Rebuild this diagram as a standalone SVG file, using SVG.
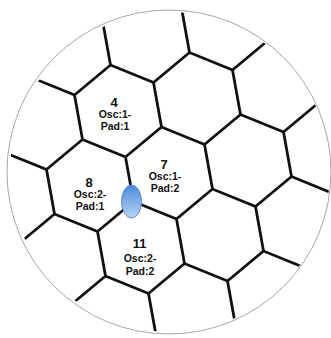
<svg xmlns="http://www.w3.org/2000/svg" width="331" height="338" viewBox="0 0 331 338">
  <defs>
    <clipPath id="wafer">
      <circle cx="170" cy="172" r="160"/>
    </clipPath>
    <linearGradient id="dotGrad" x1="0" y1="0" x2="0" y2="1">
      <stop offset="0" stop-color="#4a89d9"/>
      <stop offset="1" stop-color="#b9d5f5"/>
    </linearGradient>
  </defs>
  <style>
    .grid path { fill: none; stroke: #111; stroke-width: 2.8; stroke-linejoin: miter; }
    .num { font-family: "Liberation Sans", Arial, sans-serif; font-weight: bold; font-size: 13px; fill: #111; text-anchor: middle; }
    .lbl { font-family: "Liberation Sans", Arial, sans-serif; font-weight: bold; font-size: 10.5px; fill: #111; text-anchor: middle; }
  </style>
  <rect width="331" height="338" fill="#fff"/>
  <circle id="outline" cx="169" cy="172" r="162" fill="none" stroke="#a6a6a6" stroke-width="1"/>
  <g id="connectors" class="grid" clip-path="url(#wafer)">
    <path d="M23.5,33 L59.5,3 L102.5,20.5 L110.5,65"/>
    <path d="M102.5,20.5 L138.5,-9.5 L181.5,8 L189.5,52.5"/>
    <path d="M181.5,8 L217.5,-22 L260.5,-4.5 L268.5,40"/>
    <path d="M-4.5,107.5 L31.5,77.5 L74.5,95 L82.5,139.5"/>
    <path d="M74.5,95 L110.5,65 L153.5,82.5 L161.5,127"/>
    <path d="M153.5,82.5 L189.5,52.5 L232.5,70 L240.5,114.5"/>
    <path d="M232.5,70 L268.5,40 L311.5,57.5 L319.5,102"/>
    <path d="M-32.5,182 L3.5,152 L46.5,169.5 L54.5,214"/>
    <path d="M46.5,169.5 L82.5,139.5 L125.5,157 L133.5,201.5"/>
    <path d="M125.5,157 L161.5,127 L204.5,144.5 L212.5,189"/>
    <path d="M204.5,144.5 L240.5,114.5 L283.5,132 L291.5,176.5"/>
    <path d="M283.5,132 L319.5,102 L362.5,119.5 L370.5,164"/>
    <path d="M18.5,244 L54.5,214 L97.5,231.5 L105.5,276"/>
    <path d="M97.5,231.5 L133.5,201.5 L176.5,219 L184.5,263.5"/>
    <path d="M176.5,219 L212.5,189 L255.5,206.5 L263.5,251"/>
    <path d="M255.5,206.5 L291.5,176.5 L334.5,194 L342.5,238.5"/>
    <path d="M69.5,306 L105.5,276 L148.5,293.5 L156.5,338"/>
    <path d="M148.5,293.5 L184.5,263.5 L227.5,281 L235.5,325.5"/>
    <path d="M227.5,281 L263.5,251 L306.5,268.5 L314.5,313"/>
  </g>
  <g id="cell-4">
    <text class="num" x="114" y="106.5">4</text>
    <text class="lbl" x="115" y="118">Osc:1-</text>
    <text class="lbl" x="115" y="129.5">Pad:1</text>
  </g>
  <g id="cell-7">
    <text class="num" x="164" y="168.5">7</text>
    <text class="lbl" x="165" y="180">Osc:1-</text>
    <text class="lbl" x="165" y="191.5">Pad:2</text>
  </g>
  <g id="cell-8">
    <text class="num" x="89" y="186.5">8</text>
    <text class="lbl" x="90" y="198">Osc:2-</text>
    <text class="lbl" x="90" y="209.5">Pad:1</text>
  </g>
  <g id="cell-11">
    <text class="num" x="139.5" y="247.5">11</text>
    <text class="lbl" x="140" y="261.5">Osc:2-</text>
    <text class="lbl" x="140" y="274.5">Pad:2</text>
  </g>
  <g id="probe">
    <ellipse cx="131.5" cy="201.5" rx="10" ry="16.5" fill="url(#dotGrad)" stroke="#5b8fd2" stroke-width="1"/>
  </g>
</svg>
